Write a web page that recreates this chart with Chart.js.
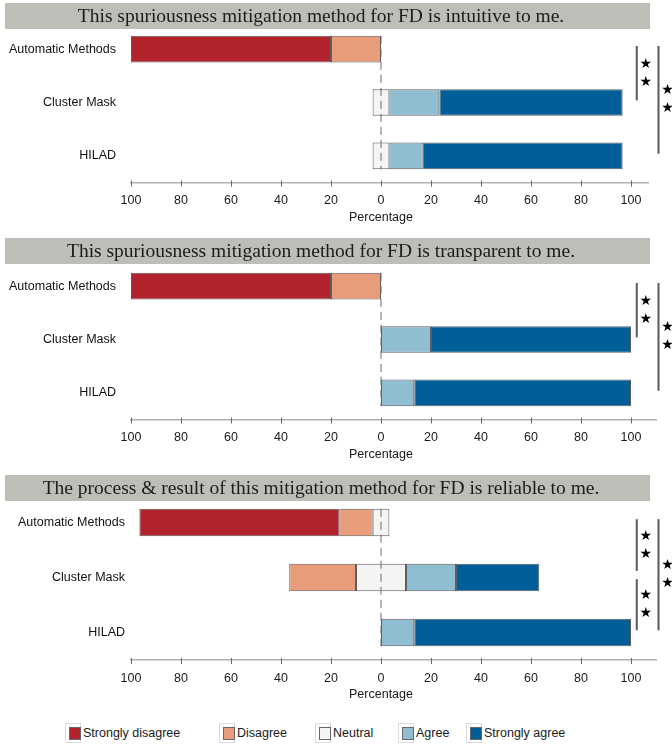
<!DOCTYPE html>
<html>
<head>
<meta charset="utf-8">
<script src="https://cdn.jsdelivr.net/npm/chart.js@4.4.1/dist/chart.umd.min.js"></script>
<style>
  html, body { margin: 0; padding: 0; background: #fff; }
  #page { position: relative; width: 672px; height: 746px; overflow: hidden; font-family: "Liberation Sans", Arial, sans-serif; }
  #page canvas { position: absolute; left: 0; }
  .legend-item { position: absolute; top: 723px; height: 20px; display: flex; align-items: center; font-size: 12.5px; color: #1a1a1a; }
  .swatch { position: relative; width: 16px; height: 20px; border: 1px solid #dcdcdc; box-sizing: border-box; margin-right: 2px; }
  .swatch i { position: absolute; left: 3px; top: 3px; width: 12px; height: 13px; border: 1px solid #666; box-sizing: border-box; }
</style>
</head>
<body>
<div id="page">
  <canvas id="panel0" width="672" height="237" style="top:0px"></canvas>
  <canvas id="panel1" width="672" height="237" style="top:237px"></canvas>
  <canvas id="panel2" width="672" height="241" style="top:474px"></canvas>
</div>
<script>
// ── Data ──
const methods = ['Automatic Methods', 'Cluster Mask', 'HILAD'];
const levels = ['Strongly disagree', 'Disagree', 'Neutral', 'Agree', 'Strongly agree'];
const levelColors = ['#b2232e', '#e99c79', '#f4f4f4', '#8fbdd1', '#005f99'];
const tickValues = [-100, -80, -60, -40, -20, 0, 20, 40, 60, 80, 100];

const titles = [
  'This spuriousness mitigation method for FD is intuitive to me.',
  'This spuriousness mitigation method for FD is transparent to me.',
  'The process & result of this mitigation method for FD is reliable to me.'
];

// percent of answers, one row per level (SD, D, N, A, SA), columns follow `methods`
const intuitivePct = [
  [80, 0, 0],
  [20, 0, 0],
  [0, 6.7, 6.7],
  [0, 20, 13.3],
  [0, 73.3, 80]
];
const transparentPct = [
  [80, 0, 0],
  [20, 0, 0],
  [0, 0, 0],
  [0, 20, 13.3],
  [0, 80, 86.7]
];
const reliablePct = [
  [80, 0, 0],
  [13.3, 26.7, 0],
  [6.7, 20, 0],
  [0, 20, 13.3],
  [0, 33.3, 86.7]
];

// significance pairs (indexes into `methods`), label drawn beside the bracket
const intuitiveSig = [[0, 1, '**'], [0, 2, '**']];
const transparentSig = [[0, 1, '**'], [0, 2, '**']];
const reliableSig = [[0, 1, '**'], [1, 2, '**'], [0, 2, '**']];

// ── Helpers ──
// Neutral is split in two halves around zero, disagree side is negative.
function buildDatasets(pct) {
  const [sd, d, n, a, sa] = pct;
  const base = { borderColor: '#5e5e5e', borderWidth: 1, borderSkipped: false, stack: 's' };
  const nz = v => (v ? v : null);
  return [
    { ...base, label: levels[2], data: n.map(v => nz(-v / 2)), backgroundColor: levelColors[2], borderSkipped: 'start' },
    { ...base, label: levels[1], data: d.map(v => nz(-v)), backgroundColor: levelColors[1] },
    { ...base, label: levels[0], data: sd.map(v => nz(-v)), backgroundColor: levelColors[0] },
    { ...base, label: levels[2], data: n.map(v => nz(v / 2)), backgroundColor: levelColors[2], borderSkipped: 'start' },
    { ...base, label: levels[3], data: a.map(nz), backgroundColor: levelColors[3] },
    { ...base, label: levels[4], data: sa.map(nz), backgroundColor: levelColors[4] }
  ];
}

// Draws title band, dashed zero line, axis tick marks, axis title and significance brackets
const panelDecor = {
  id: 'panelDecor',
  beforeDraw(chart, args, opts) {
    const ctx = chart.ctx;
    ctx.save();
    ctx.fillStyle = '#bebeb9';
    ctx.fillRect(5, opts.bandTop, 645, 26);
    ctx.fillStyle = '#1b1b1b';
    ctx.font = '19.5px "Liberation Serif", "Times New Roman", serif';
    ctx.textAlign = 'center';
    ctx.textBaseline = 'middle';
    ctx.fillText(opts.title, 321, opts.bandTop + 13.5);
    ctx.restore();
  },
  afterDatasetsDraw(chart, args, opts) {
    const ctx = chart.ctx;
    const { x, y } = chart.scales;
    const x0 = x.getPixelForValue(0);
    ctx.save();

    // dashed zero line
    ctx.strokeStyle = '#6a6a6a';
    ctx.lineWidth = 1;
    ctx.setLineDash([8, 5]);
    ctx.beginPath();
    ctx.moveTo(x0, y.getPixelForValue(-0.25));
    ctx.lineTo(x0, y.getPixelForValue(2.25));
    ctx.stroke();
    ctx.setLineDash([]);

    // tick marks crossing the axis line
    const ay = x.top;
    ctx.strokeStyle = '#666';
    ctx.beginPath();
    x.ticks.forEach(t => {
      const px = Math.round(x.getPixelForValue(t.value)) + 0.5;
      ctx.moveTo(px, ay - 2);
      ctx.lineTo(px, ay + 4);
    });
    ctx.stroke();

    // axis title centred on zero
    ctx.fillStyle = '#1a1a1a';
    ctx.font = '12.5px "Liberation Sans", Arial, sans-serif';
    ctx.textAlign = 'center';
    ctx.textBaseline = 'middle';
    ctx.fillText('Percentage', x0, ay + 35);

    // significance brackets
    const starts = new Set(opts.sig.map(s => s[0]));
    opts.sig.forEach(([a, b, label]) => {
      const outer = b - a > 1;
      const lx = x.getPixelForValue(outer ? 111 : 102.3);
      const top = y.getPixelForValue(a - 0.06 + (a > 0 ? 0.09 : 0));
      const bot = y.getPixelForValue(b - (!outer && starts.has(b) ? 0.12 : 0.04));
      ctx.strokeStyle = '#5a5a5a';
      ctx.lineWidth = 2;
      ctx.beginPath();
      ctx.moveTo(lx, top);
      ctx.lineTo(lx, bot);
      ctx.stroke();
      const mid = (top + bot) / 2;
      ctx.fillStyle = '#000';
      ctx.font = 'bold 14px "DejaVu Sans", sans-serif';
      ctx.textAlign = 'center';
      [...label].forEach((c, i) => ctx.fillText('\u2605', lx + 9, mid + (i - (label.length - 1) / 2) * 18));
    });
    ctx.restore();
  }
};

function makePanel(id, pct, sig, title, cfg) {
  const canvas = document.getElementById(id);
  const xHeight = canvas.height - cfg.chartTop - 165;
  new Chart(canvas, {
    type: 'bar',
    data: { labels: methods, datasets: buildDatasets(pct) },
    plugins: [panelDecor],
    options: {
      indexAxis: 'y',
      responsive: false,
      animation: false,
      events: [],
      barPercentage: 0.5,
      categoryPercentage: 1,
      layout: { padding: { top: cfg.chartTop, right: 672 - 131 - (cfg.xMax + 100) * 2.5, bottom: 0, left: 0 } },
      plugins: {
        legend: { display: false },
        tooltip: { enabled: false },
        panelDecor: { title, sig, bandTop: cfg.bandTop }
      },
      scales: {
        x: {
          stacked: true,
          min: -100,
          max: cfg.xMax,
          afterBuildTicks: s => { s.ticks = tickValues.map(v => ({ value: v })); },
          afterFit: s => { s.height = xHeight; },
          grid: { display: false, drawTicks: false },
          border: { display: true, color: '#b0b0b0', width: 1.5 },
          ticks: {
            padding: 11,
            color: '#1a1a1a',
            font: { family: '"Liberation Sans", Arial, sans-serif', size: 12.5 },
            callback: v => Math.abs(v)
          }
        },
        y: {
          stacked: true,
          afterFit: s => { s.width = 131; },
          grid: { display: false, drawTicks: false },
          border: { display: false },
          ticks: {
            padding: cfg.labelPad,
            color: '#111',
            font: { family: '"Liberation Sans", Arial, sans-serif', size: 12.5 }
          }
        }
      }
    }
  });
}

// ── Legend ──
function buildLegend() {
  const page = document.getElementById('page');
  const lefts = [65, 219, 315, 398, 466];
  levels.forEach((name, i) => {
    const item = document.createElement('div');
    item.className = 'legend-item';
    item.style.left = lefts[i] + 'px';
    item.innerHTML = `<span class="swatch"><i style="background:${levelColors[i]}"></i></span>${name}`;
    page.appendChild(item);
  });
}

// ── Entry point ──
document.addEventListener('DOMContentLoaded', () => {
  makePanel('panel0', intuitivePct, intuitiveSig, titles[0], { chartTop: 17.5, bandTop: 3, xMax: 107, labelPad: 15 });
  makePanel('panel1', transparentPct, transparentSig, titles[1], { chartTop: 17.5, bandTop: 1, xMax: 110, labelPad: 15 });
  makePanel('panel2', reliablePct, reliableSig, titles[2], { chartTop: 21, bandTop: 1, xMax: 110, labelPad: 6 });
  buildLegend();
});
</script>
</body>
</html>
